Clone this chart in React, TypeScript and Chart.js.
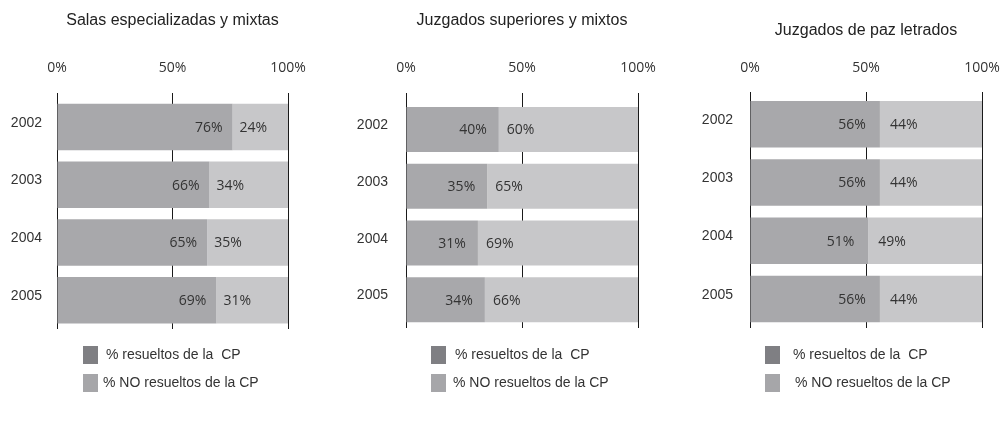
import React, { useEffect, useRef } from 'react';
import { Chart, registerables } from 'chart.js';

Chart.register(...registerables);

// ---- Data ----
const years = ['2002', '2003', '2004', '2005'];
const axisTickLabels = ['0%', '50%', '100%'];
const seriesNames = ['% resueltos de la  CP', '% NO resueltos de la CP'];
const panelTitles = [
  'Salas especializadas y mixtas',
  'Juzgados superiores y mixtos',
  'Juzgados de paz letrados',
];
const salasResueltos = [76, 66, 65, 69];
const salasNoResueltos = [24, 34, 35, 31];
const superioresResueltos = [40, 35, 31, 34];
const superioresNoResueltos = [60, 65, 69, 66];
const pazResueltos = [56, 56, 51, 56];
const pazNoResueltos = [44, 44, 49, 44];

// ---- Styles ----
const barColors = ['#a8a8ab', '#c7c7c9'];
const legendColors = ['#7f7f83', '#a6a6a9'];
const textColor = '#333333';

type Layout = {
  canvasLeft: number;
  chartLeft: number;
  chartRight: number;
  chartTop: number;
  chartBottom: number;
  tickLen: number;
  titleY: number;
  yPad: number;
  thickness: number;
  darkGap: number;
  lightGap: number;
  legendBoxX: number;
  legendTextX: number[];
};

const CANVAS_W = 330;
const CANVAS_H = 421;

const layouts: Layout[] = [
  {
    canvasLeft: 0, chartLeft: 57, chartRight: 288, chartTop: 98, chartBottom: 329,
    tickLen: 5, titleY: 21, yPad: 15, thickness: 46.5,
    darkGap: 10, lightGap: 7, legendBoxX: 83, legendTextX: [106, 103],
  },
  {
    canvasLeft: 335, chartLeft: 71, chartRight: 303, chartTop: 101, chartBottom: 328,
    tickLen: 8, titleY: 21, yPad: 18, thickness: 45,
    darkGap: 12, lightGap: 8, legendBoxX: 96, legendTextX: [120, 118],
  },
  {
    canvasLeft: 670, chartLeft: 80, chartRight: 312, chartTop: 95, chartBottom: 328,
    tickLen: 3, titleY: 31, yPad: 17, thickness: 46.5,
    darkGap: 14, lightGap: 10, legendBoxX: 95, legendTextX: [123, 125],
  },
];

const panelData = [
  [salasResueltos, salasNoResueltos],
  [superioresResueltos, superioresNoResueltos],
  [pazResueltos, pazNoResueltos],
];

const segLabelsPlugin = {
  id: 'segLabels',
  afterDatasetsDraw(chart: any, _args: any, opts: any) {
    const ctx = chart.ctx;
    ctx.save();
    ctx.font = '14px "Open Sans"';
    ctx.fillStyle = textColor;
    ctx.textBaseline = 'middle';
    chart.data.datasets.forEach((ds: any, di: number) => {
      const meta = chart.getDatasetMeta(di);
      meta.data.forEach((bar: any, i: number) => {
        const txt = ds.data[i] + '%';
        const p = bar.getProps(['x', 'y', 'base'], true);
        if (di === 0) {
          ctx.textAlign = 'right';
          ctx.fillText(txt, p.x - opts.darkGap, p.y + 1);
        } else {
          ctx.textAlign = 'left';
          ctx.fillText(txt, p.base + opts.lightGap, p.y + 1);
        }
      });
    });
    ctx.restore();
  },
};

const panelTitlePlugin = {
  id: 'panelTitle',
  afterDraw(chart: any, _args: any, opts: any) {
    const ctx = chart.ctx;
    const area = chart.chartArea;
    ctx.save();
    ctx.font = '16px "Liberation Sans"';
    ctx.fillStyle = '#222222';
    ctx.textAlign = 'center';
    ctx.textBaseline = 'middle';
    ctx.fillText(opts.text, (area.left + area.right) / 2, opts.y);
    ctx.restore();
  },
};

const boxLegendPlugin = {
  id: 'boxLegend',
  afterDraw(chart: any, _args: any, opts: any) {
    const ctx = chart.ctx;
    ctx.save();
    ctx.font = '14px "Liberation Sans"';
    ctx.textBaseline = 'middle';
    ctx.textAlign = 'left';
    chart.data.datasets.forEach((ds: any, di: number) => {
      const cy = opts.rowY[di];
      ctx.fillStyle = legendColors[di];
      ctx.fillRect(opts.boxX, cy - 9, 15, 18);
      ctx.fillStyle = textColor;
      ctx.fillText(ds.label, opts.textX[di], cy);
    });
    ctx.restore();
  },
};

function Panel({ index }: { index: number }) {
  const ref = useRef<HTMLCanvasElement | null>(null);
  useEffect(() => {
    const L = layouts[index];
    const [a, b] = panelData[index];
    const slot = (L.chartBottom - L.chartTop) / years.length;
    const chart = new Chart(ref.current as HTMLCanvasElement, {
      type: 'bar',
      data: {
        labels: years,
        datasets: [
          { label: seriesNames[0], data: a, backgroundColor: barColors[0], borderWidth: 0 },
          { label: seriesNames[1], data: b, backgroundColor: barColors[1], borderWidth: 0 },
        ],
      },
      options: {
        indexAxis: 'y',
        responsive: false,
        animation: false,
        events: [],
        layout: {
          padding: {
            left: 0,
            right: CANVAS_W - L.chartRight,
            top: 0,
            bottom: CANVAS_H - L.chartBottom,
          },
        },
        datasets: {
          bar: {
            categoryPercentage: 1,
            barPercentage: L.thickness / slot,
          },
        },
        scales: {
          x: {
            position: 'top',
            stacked: true,
            min: 0,
            max: 100,
            afterFit: (s: any) => {
              s.height = L.chartTop;
              s.paddingLeft = 0;
              s.paddingRight = 0;
            },
            ticks: {
              stepSize: 50,
              padding: L.chartTop - 68 - 8.4 - L.tickLen,
              color: textColor,
              font: { family: '"Open Sans"', size: 14 },
              callback: (_v: any, i: number) => axisTickLabels[i],
              maxRotation: 0,
            },
            grid: {
              color: '#1a1a1a',
              lineWidth: 1,
              drawTicks: true,
              tickLength: L.tickLen,
            },
            border: { display: false },
          },
          y: {
            stacked: true,
            afterFit: (s: any) => {
              s.width = L.chartLeft;
              s.paddingTop = 0;
              s.paddingBottom = 0;
            },
            ticks: {
              padding: L.yPad,
              labelOffset: -4,
              color: textColor,
              font: { family: '"Liberation Sans"', size: 14 },
            },
            grid: { display: false, drawTicks: false },
            border: { display: false },
          },
        },
        plugins: {
          legend: { display: false },
          tooltip: { enabled: false },
          title: { display: false },
          panelTitle: { text: panelTitles[index], y: L.titleY },
          segLabels: { darkGap: L.darkGap, lightGap: L.lightGap },
          boxLegend: { boxX: L.legendBoxX, textX: L.legendTextX, rowY: [355, 383] },
        } as any,
      } as any,
      plugins: [segLabelsPlugin, panelTitlePlugin, boxLegendPlugin],
    });
    return () => chart.destroy();
  }, [index]);
  const L = layouts[index];
  return (
    <canvas
      ref={ref}
      width={CANVAS_W}
      height={CANVAS_H}
      style={{ position: 'absolute', left: L.canvasLeft, top: 0, width: CANVAS_W, height: CANVAS_H, display: 'block' }}
    />
  );
}

export default function App() {
  return (
    <div style={{ position: 'absolute', left: 0, top: 0, width: 1000, height: 421, background: '#ffffff', overflow: 'hidden' }}>
      <Panel index={0} />
      <Panel index={1} />
      <Panel index={2} />
    </div>
  );
}
